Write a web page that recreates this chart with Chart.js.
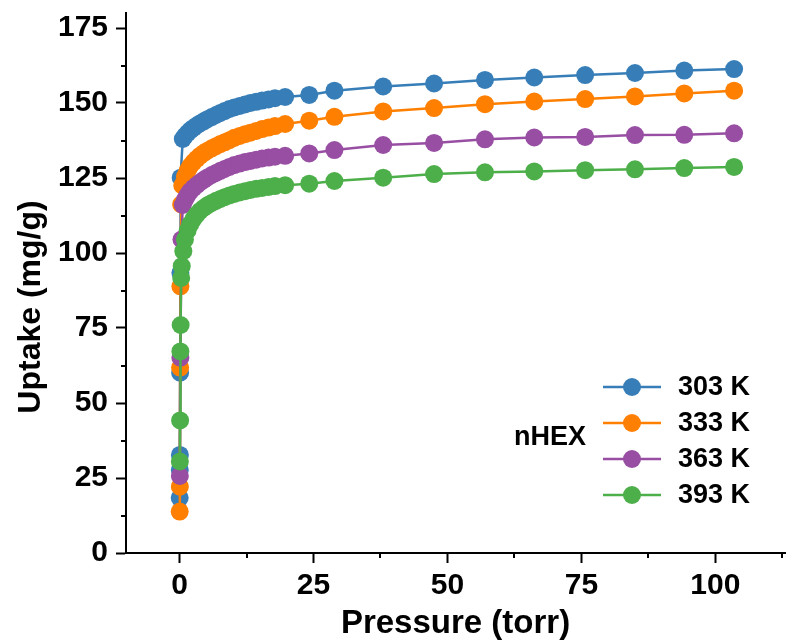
<!DOCTYPE html>
<html>

<head>
    <meta charset='utf-8'>
    <title>nHEX uptake isotherms</title>
    <script src="https://cdn.jsdelivr.net/npm/chart.js@4.4.1/dist/chart.umd.min.js"></script>
    <style>
        body { margin: 0; background: #fff; }
    </style>
</head>

<body>
    <canvas id="myChart" width="794" height="644"></canvas>
    <script>
        // pressure (torr) and uptake (mg/g) for each temperature
        const highP = [24.2, 28.9, 38.0, 47.5, 57.0, 66.2, 75.7, 85.0, 94.2, 103.5];
        const denseP = [1.0, 1.5, 2.0, 2.6, 3.2, 3.8, 4.5, 5.2, 6.0, 6.8, 7.6, 8.4, 9.3, 10.2, 11.2, 12.2, 13.2, 14.3, 15.4, 16.6, 17.8, 19.7];

        const p303 = [0.02, 0.04, 0.06, 0.1, 0.15, 0.2, 0.6, ...denseP, ...highP];
        const u303 = [18.4, 27.7, 32.7, 60.1, 93.4, 125.1, 138.0,
            139.0, 140.0, 140.9, 141.7, 142.5, 143.2, 143.9, 144.6, 145.3, 146.0, 146.7, 147.3, 148.0, 148.5, 149.0, 149.5, 150.0, 150.4, 150.8, 151.2, 151.6, 152.0,
            152.7, 154.1, 155.5, 156.5, 157.7, 158.5, 159.3, 160.0, 160.8, 161.3];

        const p333 = [0.02, 0.05, 0.1, 0.15, 0.3, 0.5, ...denseP, ...highP];
        const u333 = [13.8, 22.1, 61.8, 88.9, 116.2, 122.5,
            125.5, 127.5, 129.0, 130.3, 131.4, 132.4, 133.3, 134.1, 134.9, 135.6, 136.3, 136.9, 137.6, 138.4, 139.0, 139.6, 140.1, 140.7, 141.3, 141.8, 142.3, 143.0,
            144.1, 145.4, 147.2, 148.3, 149.6, 150.5, 151.3, 152.2, 153.2, 154.1];

        const p363 = [0.05, 0.15, 0.35, 0.6, ...denseP, ...highP];
        const u363 = [25.7, 65.1, 104.5, 116.0,
            117.8, 119.3, 120.6, 121.7, 122.6, 123.5, 124.4, 125.2, 126.0, 126.7, 127.4, 128.0, 128.7, 129.3, 129.8, 130.3, 130.7, 131.1, 131.5, 131.8, 132.1, 132.4,
            133.2, 134.3, 136.0, 136.7, 137.9, 138.5, 138.7, 139.3, 139.4, 139.9];

        const p393 = [0.05, 0.1, 0.15, 0.2, 0.3, 0.4, 0.7, ...denseP, ...highP];
        const u393 = [30.5, 44.2, 67.2, 76.0, 91.7, 95.6, 100.6,
            104.5, 107.5, 109.6, 111.4, 112.8, 114.0, 115.0, 115.9, 116.7, 117.4, 118.0, 118.6, 119.2, 119.7, 120.2, 120.6, 121.0, 121.4, 121.7, 122.0, 122.3, 122.6,
            123.1, 124.0, 125.1, 126.3, 126.9, 127.2, 127.6, 127.9, 128.3, 128.7];

        const labels = ['303 K', '333 K', '363 K', '393 K'];
        const colors = ['#377eb8', '#ff7f00', '#984ea3', '#4daf4a'];
        const xTicks = [0, 12.5, 25, 37.5, 50, 62.5, 75, 87.5, 100, 112.5];
        const yTicks = [0, 12.5, 25, 37.5, 50, 62.5, 75, 87.5, 100, 112.5, 125, 137.5, 150, 162.5, 175];

        const series = [[p303, u303], [p333, u333], [p363, u363], [p393, u393]];

        const isMajor = v => Math.abs(v % 25) < 1e-6;
        const family = '"Liberation Sans", Arial, sans-serif';

        // short minor ticks, y title and the in-plot legend
        const extras = {
            id: 'extras',
            afterDraw(chart) {
                const ctx = chart.ctx;
                const xs = chart.scales.x, ys = chart.scales.y;
                ctx.save();
                ctx.strokeStyle = '#000';
                ctx.lineWidth = 2;
                xTicks.filter(v => !isMajor(v)).forEach(v => {
                    const px = Math.round(xs.getPixelForValue(v));
                    ctx.beginPath();
                    ctx.moveTo(px, xs.top);
                    ctx.lineTo(px, xs.top + 5);
                    ctx.stroke();
                });
                yTicks.filter(v => !isMajor(v)).forEach(v => {
                    const py = Math.round(ys.getPixelForValue(v));
                    ctx.beginPath();
                    ctx.moveTo(ys.right, py);
                    ctx.lineTo(ys.right - 5, py);
                    ctx.stroke();
                });

                // y axis title, sits a bit below the plot centre like the original
                ctx.save();
                ctx.translate(31, 307);
                ctx.rotate(-Math.PI / 2);
                ctx.fillStyle = '#000';
                ctx.font = 'bold 32px ' + family;
                ctx.textAlign = 'center';
                ctx.textBaseline = 'middle';
                ctx.fillText('Uptake (mg/g)', 0, 0);
                ctx.restore();

                const lx = chart.chartArea.right - 182;
                const ly = 387;
                chart.data.datasets.forEach((ds, i) => {
                    const y = ly + i * 36;
                    ctx.strokeStyle = ds.borderColor;
                    ctx.lineWidth = 2.5;
                    ctx.beginPath();
                    ctx.moveTo(lx, y);
                    ctx.lineTo(lx + 58, y);
                    ctx.stroke();
                    ctx.fillStyle = ds.borderColor;
                    ctx.beginPath();
                    ctx.arc(lx + 29, y, 9, 0, Math.PI * 2);
                    ctx.fill();
                    ctx.fillStyle = '#000';
                    ctx.font = 'bold 27px ' + family;
                    ctx.textAlign = 'left';
                    ctx.textBaseline = 'middle';
                    ctx.fillText(ds.label, lx + 75, y + 1);
                });
                ctx.fillText('nHEX', lx - 89, ly + 51);
                ctx.restore();
            }
        };

        const tickFont = { family: family, size: 30, weight: 'bold' };
        const titleFont = { family: family, size: 33, weight: 'bold' };

        new Chart(document.getElementById('myChart').getContext('2d'), {
            type: 'line',
            data: {
                datasets: series.map((s, i) => ({
                    label: labels[i],
                    data: s[0].map((p, j) => ({ x: p, y: s[1][j] })),
                    borderColor: colors[i],
                    backgroundColor: colors[i],
                    pointBackgroundColor: colors[i],
                    pointBorderWidth: 0,
                    pointRadius: 9,
                    borderWidth: 2.5,
                    tension: 0,
                    order: 3 - i
                }))
            },
            options: {
                responsive: false,
                animation: false,
                devicePixelRatio: 1,
                layout: { padding: { top: 13, right: 5, left: 0, bottom: 0 } },
                plugins: { legend: { display: false }, tooltip: { enabled: false } },
                scales: {
                    x: {
                        type: 'linear',
                        min: -10,
                        max: 113,
                        afterBuildTicks: s => { s.ticks = xTicks.map(v => ({ value: v })); },
                        afterFit: s => { s.height = 91; s.paddingLeft = 0; s.paddingRight = 0; },
                        border: { display: true, color: '#000', width: 2 },
                        grid: {
                            display: true, drawOnChartArea: false, drawTicks: true, tickLength: 10, tickWidth: 2,
                            tickColor: c => isMajor(c.tick.value) ? '#000' : 'rgba(0,0,0,0)'
                        },
                        ticks: {
                            color: '#000', font: tickFont, padding: 5, maxRotation: 0, autoSkip: false,
                            callback: v => isMajor(v) ? v : ''
                        },
                        title: { display: true, text: 'Pressure (torr)', color: '#000', font: titleFont, padding: { top: 0, bottom: 0 } }
                    },
                    y: {
                        min: 0,
                        max: 180,
                        afterBuildTicks: s => { s.ticks = yTicks.map(v => ({ value: v })); },
                        afterFit: s => { s.width = 126; s.paddingTop = 0; s.paddingBottom = 0; },
                        border: { display: true, color: '#000', width: 2 },
                        grid: {
                            display: true, drawOnChartArea: false, drawTicks: true, tickLength: 10, tickWidth: 2,
                            tickColor: c => isMajor(c.tick.value) ? '#000' : 'rgba(0,0,0,0)'
                        },
                        ticks: {
                            color: '#000', font: tickFont, padding: 8, autoSkip: false,
                            callback: v => isMajor(v) ? v : ''
                        },
                        title: { display: false }
                    }
                }
            },
            plugins: [extras]
        });
    </script>
</body>

</html>
